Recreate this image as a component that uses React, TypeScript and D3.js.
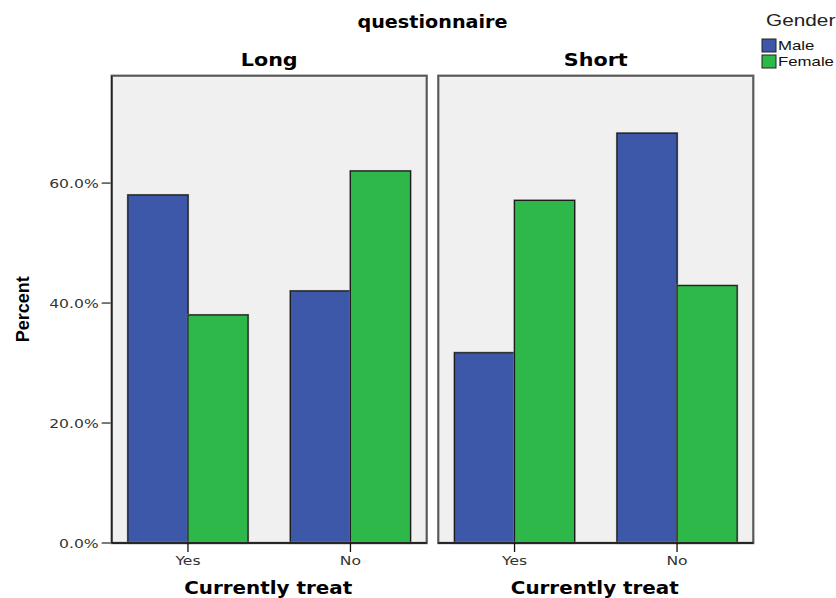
import React from "react";
import * as d3 from "d3";

const panels = ["Long", "Short"];
const categories = ["Yes", "No"];
const genders = ["Male", "Female"];
const maleValues = [
  [58.0, 42.0],
  [31.7, 68.3],
];
const femaleValues = [
  [38.0, 62.0],
  [57.1, 42.9],
];
const yTicks = [0, 20, 40, 60];
const colors = ["#3d57a9", "#2eb84a"];

type TProps = {
  x: number;
  y: number;
  sx: number;
  size: number;
  family: string;
  weight?: string;
  anchor?: string;
  fill?: string;
  children: React.ReactNode;
};

function SText({ x, y, sx, size, family, weight, anchor, fill, children }: TProps) {
  return (
    <text
      transform={`translate(${x},${y}) scale(${sx},1)`}
      textAnchor={anchor || "start"}
      fontFamily={family}
      fontWeight={weight || "normal"}
      fontSize={size}
      fill={fill || "#000"}
    >
      {children}
    </text>
  );
}

export default function App() {
  const W = 836;
  const H = 598;
  const left = 111.7;
  const right = 753.3;
  const top = 75.7;
  const bottom = 543;

  const fx = d3.scaleBand<string>().domain(panels).range([left, right]).paddingInner(0.0355);
  const pw = fx.bandwidth();
  const x0 = d3.scaleBand<string>().domain(categories).range([0, pw]).paddingInner(0.2615).paddingOuter(0.1);
  const x1 = d3.scaleBand<string>().domain(genders).range([0, x0.bandwidth()]);
  const y = d3.scaleLinear().domain([0, 77.9]).range([bottom, top]);
  const fmt = d3.format(".1%");

  const dv = "'DejaVu Sans', sans-serif";
  const lib = "'Liberation Sans', Arial, sans-serif";

  return (
    <svg width={W} height={H} style={{ position: "absolute", left: 0, top: 0, background: "#fff" }}>
      <defs>
        <filter id="sh" x="-5%" y="-5%" width="110%" height="110%">
          <feGaussianBlur stdDeviation="0.6" />
        </filter>
      </defs>
      <SText x={432.5} y={28} sx={1.13} size={17} family={dv} weight="bold" anchor="middle">
        questionnaire
      </SText>
      {/* legend */}
      <SText x={766} y={26} sx={1.3} size={16} family={lib} fill="#222">
        Gender
      </SText>
      {genders.map((g, i) => (
        <g key={g}>
          <rect x={762} y={39 + i * 16} width={14} height={13} fill={colors[i]} stroke="#222" strokeWidth={1} />
          <SText x={778} y={50 + i * 16} sx={1.4} size={12} family={lib} fill="#111">
            {g}
          </SText>
        </g>
      ))}
      {/* y axis */}
      <g>
        {yTicks.map((t) => (
          <g key={t}>
            <line x1={left - 10} x2={left} y1={y(t)} y2={y(t)} stroke="#222" strokeWidth={1.2} />
            <SText x={left - 13} y={y(t) + 4.5} sx={1.3} size={12} family={dv} anchor="end" fill="#333">
              {fmt(t / 100)}
            </SText>
          </g>
        ))}
        <text
          transform={`translate(29,${(top + bottom) / 2}) rotate(-90)`}
          textAnchor="middle"
          fontFamily={lib}
          fontWeight="bold"
          fontSize={18}
          fill="#000"
        >
          Percent
        </text>
      </g>
      {panels.map((p, pi) => {
        const px = fx(p)!;
        return (
          <g key={p}>
            <SText x={px + pw / 2} y={66} sx={1.15} size={18} family={dv} weight="bold" anchor="middle">
              {p}
            </SText>
            <rect x={px} y={top} width={pw} height={bottom - top} fill="#f0f0f0" />
            {categories.map((c, ci) =>
              genders.map((g, gi) => {
                const v = gi === 0 ? maleValues[pi][ci] : femaleValues[pi][ci];
                const bx = px + x0(c)! + x1(g)!;
                return (
                  <g key={c + g}>
                    <rect
                      x={bx}
                      y={y(v)}
                      width={x1.bandwidth()}
                      height={bottom - y(v)}
                      fill="none"
                      stroke="#777"
                      strokeWidth={2.2}
                      filter="url(#sh)"
                    />
                    <rect
                      x={bx}
                      y={y(v)}
                      width={x1.bandwidth()}
                      height={bottom - y(v)}
                      fill={colors[gi]}
                      stroke="#1c1c1c"
                      strokeWidth={1.1}
                    />
                  </g>
                );
              })
            )}
            {/* panel border */}
            <rect
              x={px}
              y={top}
              width={pw}
              height={bottom - top}
              fill="none"
              stroke="#8a8a8a"
              strokeWidth={2.5}
              filter="url(#sh)"
            />
            <rect x={px} y={top} width={pw} height={bottom - top} fill="none" stroke="#555" strokeWidth={1.3} />
            {/* bottom axis */}
            <line x1={px} x2={px + pw} y1={bottom} y2={bottom} stroke="#111" strokeWidth={1.4} />
            {pi === 0 && <line x1={px} x2={px} y1={top} y2={bottom} stroke="#222" strokeWidth={1.4} />}
            {categories.map((c) => {
              const cx = px + x0(c)! + x0.bandwidth() / 2;
              return (
                <g key={c}>
                  <line x1={cx} x2={cx} y1={bottom} y2={bottom + 9} stroke="#111" strokeWidth={1.3} />
                  <SText x={cx} y={565} sx={1.3} size={12} family={dv} anchor="middle" fill="#333">
                    {c}
                  </SText>
                </g>
              );
            })}
            <SText x={px + pw / 2 - 1} y={594} sx={1.17} size={17} family={dv} weight="bold" anchor="middle">
              Currently treat
            </SText>
          </g>
        );
      })}
    </svg>
  );
}
